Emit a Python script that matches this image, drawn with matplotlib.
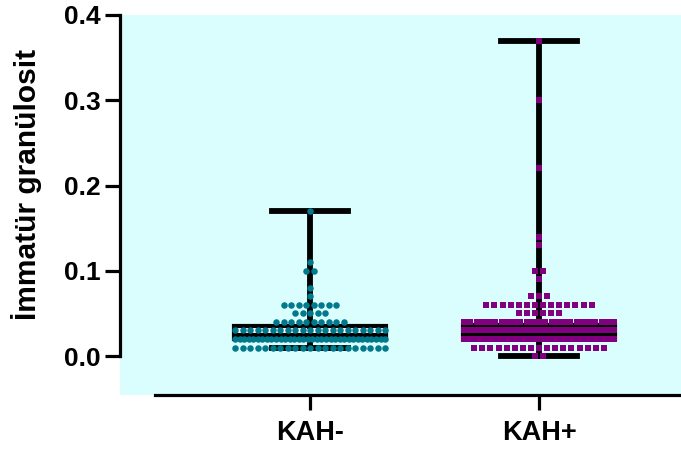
import matplotlib.pyplot as plt
import numpy as np

plt.rcParams['font.family'] = ['Liberation Sans', 'DejaVu Sans']
plt.rcParams['font.weight'] = 'bold'

groups = ["KAH-", "KAH+"]

# value levels and number of patients on each level
neg_levels = [0.01, 0.02, 0.03, 0.04, 0.05, 0.06, 0.07, 0.08, 0.10, 0.11, 0.17]
neg_counts = [21, 34, 21, 10, 5, 8, 1, 1, 2, 1, 1]
pos_levels = [0.0, 0.01, 0.02, 0.03, 0.04, 0.05, 0.06, 0.07, 0.09, 0.10, 0.13, 0.14, 0.22, 0.30, 0.37]
pos_counts = [2, 17, 40, 26, 25, 6, 14, 3, 1, 2, 1, 1, 1, 1, 1]

# box summaries (min, Q1, median, Q3, max)
neg_box = [0.01, 0.02, 0.025, 0.035, 0.17]
pos_box = [0.0, 0.02, 0.025, 0.036, 0.37]

yticks = [0.0, 0.1, 0.2, 0.3, 0.4]
ytick_labels = ["0.0", "0.1", "0.2", "0.3", "0.4"]

teal = "#00798C"
purple = "#800080"
bg = "#DAFEFE"

fig = plt.figure(figsize=(6.81, 4.50), dpi=100)
ax = fig.add_axes([120 / 681, 55 / 450, 561 / 681, 380 / 450])
ax.set_facecolor(bg)

pos = [0, 1]
box_stats = []
for name, b in zip(groups, [neg_box, pos_box]):
    box_stats.append(dict(label=name, whislo=b[0], q1=b[1], med=b[2], q3=b[3], whishi=b[4]))

ax.bxp(box_stats, positions=pos, widths=0.664, capwidths=0.33, showfliers=False,
       patch_artist=True,
       boxprops=dict(facecolor="white", edgecolor="black", linewidth=3),
       medianprops=dict(color="black", linewidth=3),
       whiskerprops=dict(color="black", linewidth=4.2),
       capprops=dict(color="black", linewidth=4.2),
       zorder=2)


def swarm_x(center, counts, step, max_span):
    # spread equal values sideways, squeezing rows that get too wide
    xs = []
    for n in counts:
        gap = step if (n - 1) * step <= max_span else max_span / (n - 1)
        xs.append(center + (np.arange(n) - (n - 1) / 2) * gap)
    return np.concatenate(xs)


nx = swarm_x(pos[0], neg_counts, 7.5 / 229, 150 / 229)
ny = np.repeat(neg_levels, neg_counts)
ax.scatter(nx, ny, s=22, marker="o", color=teal, linewidths=0, zorder=3)

px = swarm_x(pos[1], pos_counts, 8.1 / 229, 150 / 229)
py = np.repeat(pos_levels, pos_counts)
ax.scatter(px, py, s=20, marker="s", color=purple, linewidths=0, zorder=3)

ax.set_xlim(-0.83, 1.62)
ax.set_ylim(-0.0457, 0.4)
ax.set_xticks(pos)
ax.set_xticklabels(groups, fontsize=19.5, fontweight="bold")
ax.set_yticks(yticks)
ax.set_yticklabels(ytick_labels, fontsize=19, fontweight="bold")
ax.set_ylabel("İmmatür granülosit", fontsize=21.5, fontweight="bold")
ax.yaxis.set_label_coords(-0.139, 0.555)

for s in ["top", "right"]:
    ax.spines[s].set_visible(False)
ax.spines["left"].set_bounds(0, 0.4)
ax.spines["bottom"].set_bounds(-0.677, 1.62)
ax.spines["left"].set_linewidth(2.3)
ax.spines["bottom"].set_linewidth(2.3)
ax.tick_params(axis="both", length=11, width=2.3, direction="out")
ax.tick_params(axis="x", pad=7)
ax.tick_params(axis="y", pad=3)

fig.savefig("out.png", dpi=100)
